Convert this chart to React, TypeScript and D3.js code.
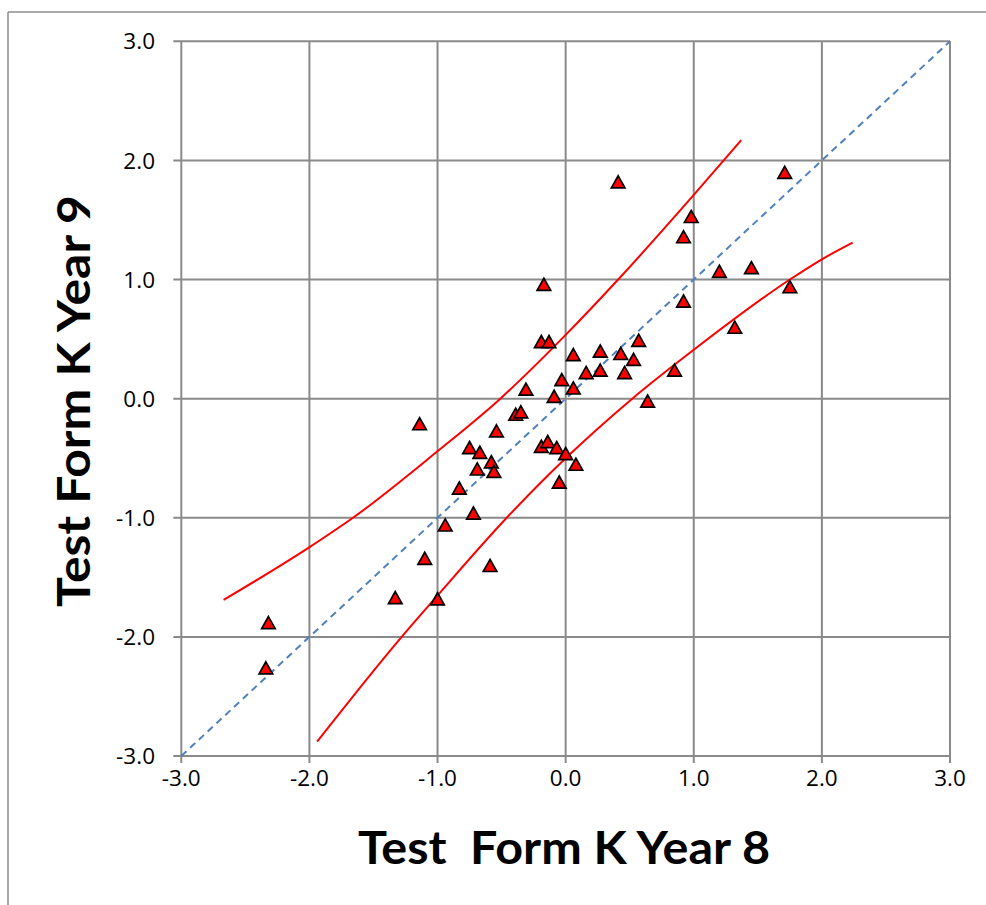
import React from "react";
import * as d3 from "d3";

const W = 986;
const H = 905;

// Scatter data: Year 8 (x) vs Year 9 (y)
const year8 = [
  0.41, 1.71, 0.98, 0.92, 1.2, 1.45, 1.75, 0.92, 1.32, 0.85,
  0.64, 0.57, 0.43, 0.53, 0.46, 0.27, 0.27, 0.16, 0.06, -0.03,
  0.06, -0.09, -0.17, -0.19, -0.13, -0.31, -0.39, -0.35, -1.14, -0.54,
  -0.75, -0.67, -0.19, -0.14, -0.07, 0.0, -0.58, -0.69, -0.56, 0.08,
  -0.05, -0.83, -0.72, -0.94, -1.1, -0.59, -1.33, -1.0, -2.32, -2.34,
];
const year9 = [
  1.81, 1.89, 1.52, 1.35, 1.06, 1.09, 0.93, 0.81, 0.59, 0.23,
  -0.03, 0.48, 0.37, 0.32, 0.21, 0.39, 0.23, 0.21, 0.36, 0.15,
  0.08, 0.01, 0.95, 0.47, 0.47, 0.07, -0.14, -0.12, -0.22, -0.28,
  -0.42, -0.46, -0.41, -0.37, -0.42, -0.47, -0.54, -0.6, -0.62, -0.56,
  -0.71, -0.76, -0.97, -1.07, -1.35, -1.41, -1.68, -1.69, -1.89, -2.27,
];

// Upper and lower red band curves
const upperX = [-2.67, -1.99, -1.66, -1.01, -0.51, 0.0, 0.41, 1.0, 1.37];
const upperY = [-1.69, -1.24, -1.0, -0.45, 0.0, 0.535, 1.0, 1.71, 2.17];
const lowerX = [-1.94, -1.28, -1.01, -0.46, 0.01, 0.52, 1.0, 1.75, 2.0, 2.24];
const lowerY = [-2.88, -2.0, -1.665, -1.0, -0.49, 0.0, 0.41, 1.0, 1.17, 1.31];

// Identity (dashed) line
const identityX = [-3, 3];
const identityY = [-3, 3];

const ticks = [-3, -2, -1, 0, 1, 2, 3];
const xTitle = "Test  Form K Year 8";
const yTitle = "Test Form K Year 9";

export default function App() {
  const x = d3.scaleLinear().domain([-3, 3]).range([181.3, 950]);
  const y = d3.scaleLinear().domain([-3, 3]).range([756, 41.3]);
  const fmt = (v: number) => v.toFixed(1);

  const curve = d3
    .line<[number, number]>()
    .x((d) => x(d[0]))
    .y((d) => y(d[1]))
    .curve(d3.curveMonotoneX);
  const straight = d3
    .line<[number, number]>()
    .x((d) => x(d[0]))
    .y((d) => y(d[1]));

  const upper = upperX.map((v, i) => [v, upperY[i]] as [number, number]);
  const lower = lowerX.map((v, i) => [v, lowerY[i]] as [number, number]);
  const ident = identityX.map((v, i) => [v, identityY[i]] as [number, number]);

  const gridColor = "#8a8a8a";
  const tri = "M0,-7.2L6.8,4.9L-6.8,4.9Z";

  return (
    <svg
      width={W}
      height={H}
      style={{ position: "absolute", left: 0, top: 0, background: "#fff" }}
      fontFamily="'Open Sans', sans-serif"
    >
      <rect x={0} y={0} width={W} height={H} fill="#fff" />
      {/* outer frame */}
      <line x1={8} y1={12} x2={W} y2={12} stroke="#8c8c8c" strokeWidth={1.5} />
      <line x1={8} y1={12} x2={8} y2={H} stroke="#8c8c8c" strokeWidth={1.5} />

      {/* grid + ticks */}
      {ticks.map((t) => (
        <g key={"gx" + t}>
          <line x1={x(t)} x2={x(t)} y1={y(3)} y2={y(-3) + 7} stroke={gridColor} strokeWidth={2} />
          <line x1={x(-3) - 8} x2={x(3)} y1={y(t)} y2={y(t)} stroke={gridColor} strokeWidth={2} />
        </g>
      ))}

      {/* tick labels */}
      {ticks.map((t) => (
        <text key={"ly" + t} x={155} y={y(t)} dy="0.36em" textAnchor="end" fontSize={22.5} fill="#000">
          {fmt(t)}
        </text>
      ))}
      {ticks.map((t) => (
        <text key={"lx" + t} x={x(t)} y={786} textAnchor="middle" fontSize={22.5} fill="#000">
          {fmt(t)}
        </text>
      ))}

      {/* identity dashed line */}
      <path d={straight(ident) || ""} fill="none" stroke="#4f81bd" strokeWidth={2} strokeDasharray="7,5" />

      {/* band curves */}
      <path d={curve(upper) || ""} fill="none" stroke="#ff0000" strokeWidth={2} />
      <path d={curve(lower) || ""} fill="none" stroke="#ff0000" strokeWidth={2} />

      {/* points */}
      {year8.map((v, i) => (
        <path
          key={"p" + i}
          d={tri}
          transform={`translate(${x(v)},${y(year9[i])})`}
          fill="#ff0000"
          stroke="#000"
          strokeWidth={1.7}
          strokeLinejoin="miter"
        />
      ))}

      {/* axis titles */}
      <text
        x={564}
        y={864}
        textAnchor="middle"
        fontFamily="Lato, 'Open Sans', sans-serif"
        fontWeight="bold"
        fontSize={45}
        textLength={412}
        lengthAdjust="spacingAndGlyphs"
        fill="#000"
        style={{ whiteSpace: "pre" }}
      >
        {xTitle}
      </text>
      <text
        transform={`translate(90,401) rotate(-90)`}
        textAnchor="middle"
        fontFamily="Lato, 'Open Sans', sans-serif"
        fontWeight="bold"
        fontSize={45}
        textLength={412}
        lengthAdjust="spacingAndGlyphs"
        fill="#000"
      >
        {yTitle}
      </text>
    </svg>
  );
}
